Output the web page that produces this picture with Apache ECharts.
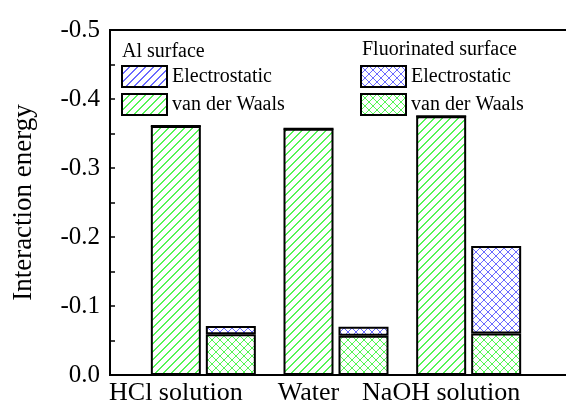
<!DOCTYPE html>
<html>
<head>
<meta charset="utf-8">
<script src="https://cdn.jsdelivr.net/npm/echarts@6/dist/echarts.min.js"></script>
<style>html,body{margin:0;padding:0;background:#fff;}#chart{width:566px;height:406px;}</style>
</head>
<body>
<div id="chart"></div>
<script>
// ---- data ----
const categories = ['HCl solution', 'Water', 'NaOH solution'];
const alElectrostatic = [0, 0, 0];
const alVdW = [-0.361, -0.357, -0.375];
const fElectrostatic = [-0.012, -0.013, -0.127];
const fVdW = [-0.059, -0.057, -0.060];
const yTicks = [-0.5, -0.4, -0.3, -0.2, -0.1, 0.0];

const FONT = '"Liberation Serif", "Times New Roman", serif';

function makePattern(color, cross) {
  const s = 8;
  const c = document.createElement('canvas');
  c.width = s; c.height = s;
  const ctx = c.getContext('2d');
  ctx.fillStyle = color;
  for (let i = 0; i < s; i++) {
    if (cross) {
      ctx.fillRect(i, s - 1 - i, 1, 1);
      ctx.fillRect(i, i, 1, 1);
    } else {
      ctx.fillRect(i, s - 1 - i, 1, 1);
      ctx.fillRect((i + 1) % s, s - 1 - i, 1, 1);
    }
  }
  return { image: c, repeat: 'repeat' };
}

const GREEN = '#55f555';
const BLUE = '#6a6aff';
const pAlE = makePattern(BLUE, false);
const pAlV = makePattern(GREEN, false);
const pFE = makePattern(BLUE, true);
const pFV = makePattern(GREEN, true);

const chart = echarts.init(document.getElementById('chart'), null, { renderer: 'canvas' });

function barSeries(name, stack, data, pattern) {
  return {
    name: name, type: 'bar', stack: stack, xAxisIndex: 1, yAxisIndex: 1,
    data: data, barWidth: 50, barGap: '10%',
    itemStyle: { color: pattern, borderColor: '#000', borderWidth: 2 },
    emphasis: { disabled: true }, animation: false
  };
}

const legendCommon = {
  orient: 'vertical', itemWidth: 45, itemHeight: 21, itemGap: 5, itemTextGap: 6,
  padding: 0, icon: 'rect',
  textStyle: { fontFamily: FONT, fontSize: 20, color: '#000' },
  formatter: function (n) { return n.replace(/^(Al|F) /, ''); },
  selectedMode: false
};

chart.setOption({
  backgroundColor: '#fff',
  animation: false,
  aria: { enabled: false },
  grid: [
    { left: 110, top: 30, width: 480, bottom: 31, show: true, borderColor: '#000', borderWidth: 2, backgroundColor: 'transparent', outerBoundsMode: 'none', containLabel: false },
    { left: 137, top: 30, width: 398, bottom: 31, outerBoundsMode: 'none', containLabel: false }
  ],
  xAxis: [
    { type: 'value', gridIndex: 0, show: false, min: 0, max: 1 },
    {
      type: 'category', gridIndex: 1, data: categories,
      axisLine: { show: false }, axisTick: { show: false },
      axisLabel: { fontFamily: FONT, fontSize: 26, color: '#000', margin: 5, padding: [0, 55, 0, 0], interval: 0 }
    }
  ],
  yAxis: [
    {
      type: 'value', gridIndex: 0, min: yTicks[0], max: yTicks[yTicks.length - 1], interval: 0.1, inverse: true,
      name: 'Interaction energy', nameLocation: 'middle', nameGap: 73,
      nameTextStyle: { fontFamily: FONT, fontSize: 27, color: '#000' },
      axisLine: { show: true, lineStyle: { color: '#000', width: 2 } },
      axisTick: { show: true, inside: true, length: 5, lineStyle: { color: '#000', width: 1.5 } },
      minorTick: { show: true, splitNumber: 2, length: 5, lineStyle: { color: '#000', width: 1.5 } },
      splitLine: { show: false },
      axisLabel: { fontFamily: FONT, fontSize: 25, color: '#000', margin: 10, formatter: function (v) { return (Math.abs(v) < 1e-9 ? 0 : v).toFixed(1); } }
    },
    { type: 'value', gridIndex: 1, min: -0.5, max: 0, inverse: true, show: false }
  ],
  legend: [
    Object.assign({ left: 121, top: 65, data: ['Al Electrostatic', 'Al van der Waals'] }, legendCommon),
    Object.assign({ left: 360, top: 65, data: ['F Electrostatic', 'F van der Waals'] }, legendCommon)
  ],
  graphic: [
    { type: 'text', left: 122, top: 42, style: { text: 'Al surface', font: '20px ' + FONT, fill: '#000' } },
    { type: 'text', left: 362, top: 40, style: { text: 'Fluorinated surface', font: '20px ' + FONT, fill: '#000' } }
  ],
  series: [
    barSeries('Al van der Waals', 'al', alVdW, pAlV),
    barSeries('Al Electrostatic', 'al', alElectrostatic, pAlE),
    barSeries('F van der Waals', 'f', fVdW, pFV),
    barSeries('F Electrostatic', 'f', fElectrostatic, pFE)
  ]
});
</script>
</body>
</html>
